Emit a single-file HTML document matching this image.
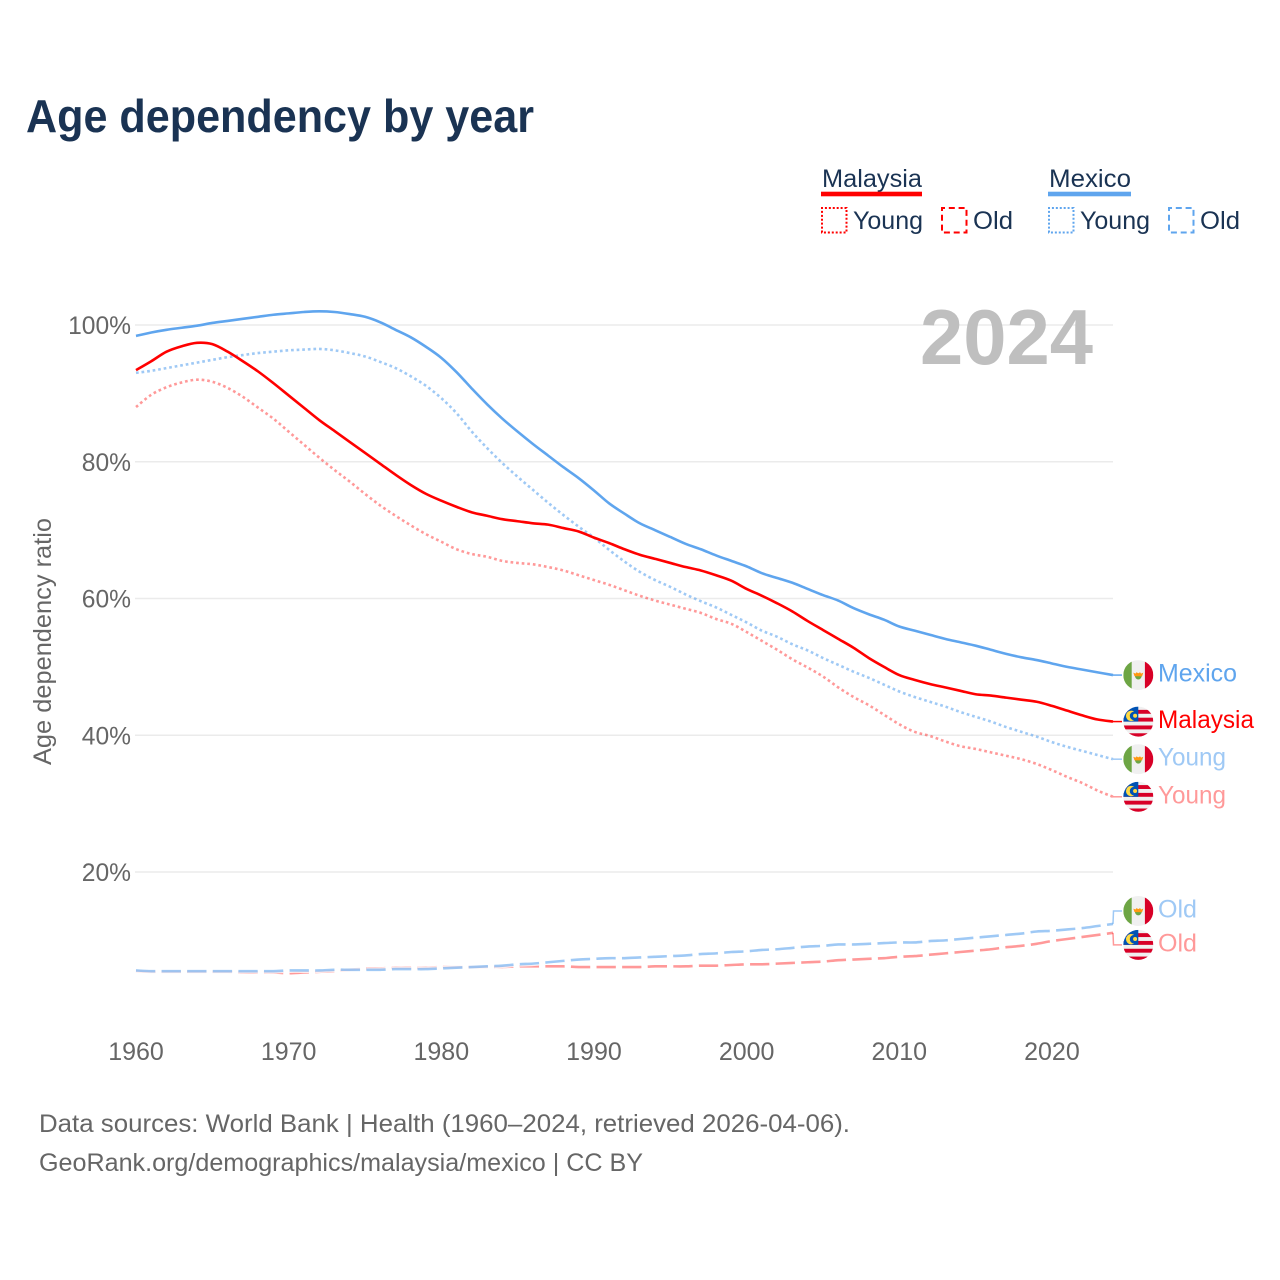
<!DOCTYPE html>
<html lang="en">
<head>
<meta charset="utf-8">
<title>Age dependency by year</title>
<style>
html,body{margin:0;padding:0;background:#fff}
body{width:1280px;height:1280px;overflow:hidden}
svg{display:block;font-family:"Liberation Sans",sans-serif}
</style>
</head>
<body>
<svg id="chart" xmlns="http://www.w3.org/2000/svg" width="1280" height="1280" viewBox="0 0 1280 1280">
  <rect x="0" y="0" width="1280" height="1280" fill="#ffffff"/>
  <text x="26" y="132" font-size="46" font-weight="700" fill="#1a3353" textLength="508" lengthAdjust="spacingAndGlyphs">Age dependency by year</text>

  <g font-size="25" fill="#1a3353">
    <g>
      <text x="822" y="187" textLength="100" lengthAdjust="spacingAndGlyphs">Malaysia</text>
      <rect x="821" y="191.7" width="101" height="4.6" fill="#ff0000"/>
    </g>
    <g>
      <rect x="822" y="208" width="24.5" height="24.5" fill="none" stroke="#ff0000" stroke-width="2" stroke-dasharray="2 1.92" stroke-dashoffset="1"/>
      <text x="853" y="229" textLength="70" lengthAdjust="spacingAndGlyphs">Young</text>
    </g>
    <g>
      <rect x="942" y="208" width="24.5" height="24.5" fill="none" stroke="#ff0000" stroke-width="2" stroke-dasharray="6 3.8" stroke-dashoffset="3"/>
      <text x="973" y="229" textLength="40" lengthAdjust="spacingAndGlyphs">Old</text>
    </g>
    <g>
      <text x="1049" y="187" textLength="82" lengthAdjust="spacingAndGlyphs">Mexico</text>
      <rect x="1048" y="191.7" width="83" height="4.6" fill="#5fa5ee"/>
    </g>
    <g>
      <rect x="1049" y="208" width="24.5" height="24.5" fill="none" stroke="#5fa5ee" stroke-width="2" stroke-dasharray="2 1.92" stroke-dashoffset="1"/>
      <text x="1080" y="229" textLength="70" lengthAdjust="spacingAndGlyphs">Young</text>
    </g>
    <g>
      <rect x="1169" y="208" width="24.5" height="24.5" fill="none" stroke="#5fa5ee" stroke-width="2" stroke-dasharray="6 3.8" stroke-dashoffset="3"/>
      <text x="1200" y="229" textLength="40" lengthAdjust="spacingAndGlyphs">Old</text>
    </g>
  </g>

  <g id="plot"></g>

  <text transform="translate(51 641.5) rotate(-90)" text-anchor="middle" font-size="25" fill="#666666" textLength="247" lengthAdjust="spacingAndGlyphs">Age dependency ratio</text>
  <text x="920" y="364" font-size="78" font-weight="700" fill="#bfbfbf" textLength="173" lengthAdjust="spacingAndGlyphs">2024</text>
  <text x="39" y="1132" font-size="25" fill="#666666" textLength="811" lengthAdjust="spacingAndGlyphs">Data sources: World Bank | Health (1960–2024, retrieved 2026-04-06).</text>
  <text x="39" y="1171" font-size="25" fill="#666666" textLength="604" lengthAdjust="spacingAndGlyphs">GeoRank.org/demographics/malaysia/mexico | CC BY</text>
</svg>

<script>
const firstYear = 1960;
const lastYear = 2024;
const xTicks = [1960, 1970, 1980, 1990, 2000, 2010, 2020];
const yTicks = [20, 40, 60, 80, 100];

const mexicoTotal = [98.4,98.9,99.3,99.6,99.9,100.3,100.6,100.9,101.2,101.5,101.7,101.9,102.0,101.9,101.6,101.2,100.4,99.3,98.2,96.8,95.2,93.1,90.7,88.4,86.3,84.4,82.6,80.9,79.2,77.6,75.8,73.9,72.4,71.0,70.0,69.0,68.0,67.2,66.3,65.5,64.7,63.7,63.0,62.3,61.4,60.5,59.7,58.6,57.7,56.9,55.9,55.3,54.7,54.1,53.6,53.1,52.5,51.9,51.4,51.0,50.5,50.0,49.6,49.2,48.8];
const malaysiaTotal = [93.4,94.7,96.1,96.9,97.4,97.2,96.1,94.7,93.2,91.5,89.7,87.9,86.1,84.5,82.9,81.3,79.7,78.1,76.6,75.3,74.3,73.4,72.6,72.1,71.6,71.3,71.0,70.8,70.3,69.8,68.9,68.1,67.2,66.4,65.8,65.2,64.6,64.1,63.4,62.6,61.4,60.4,59.3,58.1,56.7,55.4,54.1,52.8,51.3,50.0,48.8,48.1,47.5,47.0,46.5,46.0,45.8,45.5,45.2,44.9,44.3,43.6,42.9,42.3,42.0];
const mexicoYoung = [93.0,93.3,93.7,94.1,94.5,94.9,95.3,95.6,95.9,96.1,96.3,96.4,96.5,96.3,95.9,95.4,94.6,93.7,92.5,91.1,89.3,87.1,84.4,82.0,79.8,77.8,75.9,74.0,72.2,70.5,68.9,67.1,65.4,63.9,62.7,61.7,60.6,59.6,58.7,57.6,56.5,55.3,54.4,53.3,52.4,51.3,50.3,49.3,48.4,47.4,46.4,45.6,44.9,44.2,43.4,42.7,42.0,41.2,40.5,39.8,39.0,38.3,37.7,37.1,36.5];
const malaysiaYoung = [88.0,89.8,90.9,91.6,92.0,91.7,90.8,89.5,87.9,86.3,84.4,82.5,80.6,78.8,77.1,75.3,73.6,72.1,70.7,69.4,68.3,67.2,66.5,66.1,65.5,65.2,65.0,64.6,64.1,63.4,62.7,62.0,61.2,60.4,59.7,59.1,58.5,57.9,57.0,56.3,55.1,53.8,52.5,51.1,49.9,48.6,47.0,45.6,44.4,43.0,41.6,40.5,39.9,39.1,38.4,38.0,37.5,37.0,36.5,35.8,34.9,33.9,33.0,31.9,31.0];
const mexicoOld = [5.6,5.5,5.5,5.5,5.5,5.5,5.5,5.5,5.5,5.5,5.6,5.6,5.6,5.7,5.7,5.7,5.7,5.8,5.8,5.8,5.9,6.0,6.1,6.2,6.3,6.5,6.6,6.8,7.0,7.2,7.3,7.4,7.4,7.5,7.6,7.7,7.8,8.0,8.1,8.3,8.4,8.6,8.7,8.9,9.1,9.2,9.4,9.4,9.5,9.6,9.7,9.7,9.9,10.0,10.2,10.4,10.6,10.8,11.0,11.3,11.4,11.6,11.8,12.1,12.4];
const malaysiaOld = [5.5,5.4,5.4,5.4,5.4,5.4,5.4,5.3,5.3,5.3,5.2,5.3,5.4,5.5,5.7,5.9,5.9,6.0,6.0,6.0,6.1,6.1,6.1,6.1,6.1,6.2,6.2,6.2,6.2,6.1,6.1,6.1,6.1,6.1,6.2,6.2,6.2,6.3,6.3,6.4,6.5,6.5,6.6,6.7,6.8,6.9,7.1,7.2,7.3,7.4,7.6,7.7,7.9,8.1,8.3,8.5,8.7,9.0,9.2,9.5,9.9,10.2,10.5,10.8,11.1];

const NS = 'http://www.w3.org/2000/svg';
const plot = document.getElementById('plot');
const RED = '#ff0000';
const BLUE = '#5fa5ee';
const RED_FADE = 0.4;
const BLUE_FADE = 0.6;
const X0 = 136, X1 = 1113;
const Y100 = 325, PX_PER_PCT = 6.8375;

function xScale(year) { return X0 + (year - firstYear) * (X1 - X0) / (lastYear - firstYear); }
function yScale(pct) { return Y100 + (100 - pct) * PX_PER_PCT; }
function make(tag, attrs, parent) {
  const el = document.createElementNS(NS, tag);
  for (const k in attrs) el.setAttribute(k, attrs[k]);
  (parent || plot).appendChild(el);
  return el;
}
// smooth path through the yearly values (Catmull-Rom to cubic Bezier)
function pathOf(values) {
  const pts = values.map(function (v, i) { return [xScale(firstYear + i), yScale(v)]; });
  let d = 'M' + pts[0][0].toFixed(2) + ' ' + pts[0][1].toFixed(2);
  for (let i = 0; i < pts.length - 1; i++) {
    const p0 = pts[Math.max(i - 1, 0)], p1 = pts[i], p2 = pts[i + 1], p3 = pts[Math.min(i + 2, pts.length - 1)];
    const c1x = p1[0] + (p2[0] - p0[0]) / 6, c1y = p1[1] + (p2[1] - p0[1]) / 6;
    const c2x = p2[0] - (p3[0] - p1[0]) / 6, c2y = p2[1] - (p3[1] - p1[1]) / 6;
    d += 'C' + c1x.toFixed(2) + ' ' + c1y.toFixed(2) + ' ' + c2x.toFixed(2) + ' ' + c2y.toFixed(2) + ' ' + p2[0].toFixed(2) + ' ' + p2[1].toFixed(2);
  }
  return d;
}

// gridlines and y ticks
yTicks.forEach(function (t) {
  const line = make('line', { x1: X0 - 1, x2: X1, y1: yScale(t), y2: yScale(t), stroke: '#ebebeb', 'stroke-width': 1.4 });
  
  
  const label = make('text', { x: 131, y: yScale(t) + 9, 'text-anchor': 'end', 'font-size': 24.6, fill: '#666666' });
  label.textContent = t + '%';
  
  
});

// x ticks
xTicks.forEach(function (t) {
  const label = make('text', { x: xScale(t), y: 1060, 'text-anchor': 'middle', 'font-size': 25, fill: '#666666' });
  label.textContent = String(t);
  
  
});

function drawSeries(name, values, color, kind, fade) {
  const d = pathOf(values);
  if (kind === 'old') {
    const halo = make('path', { d: d, fill: 'none', stroke: '#ffffff', 'stroke-width': 5, 'stroke-opacity': 0.8, 'stroke-dasharray': '19.3 6.3' });
    
    
  }
  const line = make('path', { d: d, fill: 'none', stroke: color, 'stroke-width': 2.6, 'stroke-linejoin': 'round' });
  if (kind === 'young') {
    line.setAttribute('stroke-dasharray', '2.7 2.9');
    line.setAttribute('stroke-opacity', String(fade));
  } else if (kind === 'old') {
    line.setAttribute('stroke-dasharray', '19.3 6.3');
    line.setAttribute('stroke-opacity', String(fade));
  }
  
  
}

let flagCount = 0;
function drawMexicoFlag(g, cx, cy) {
  make('rect', { x: cx - 15, y: cy - 15, width: 30, height: 30, fill: '#f0f0f0' }, g);
  make('rect', { x: cx - 15, y: cy - 15, width: 8.4, height: 30, fill: '#6da544' }, g);
  make('rect', { x: cx + 6.6, y: cy - 15, width: 8.4, height: 30, fill: '#d80027' }, g);
  make('path', { d: 'M' + (cx - 3.4) + ' ' + (cy + 0.6) + 'a3.4 3.8 0 0 0 6.8 0z', fill: '#6da544' }, g);
  make('path', { d: 'M' + (cx - 5) + ' ' + (cy - 2.4) + 'l2.2 .9 1-1.3 1.8 1 1.8-1 1 1.3 2.2-.9-1.2 3.6h-7.6z', fill: '#ff9811' }, g);
}
function drawMalaysiaFlag(g, cx, cy) {
  make('rect', { x: cx - 15, y: cy - 15, width: 30, height: 30, fill: '#f0f0f0' }, g);
  [-11.7, -3.9, 3.9, 11.7].forEach(function (top) {
    make('rect', { x: cx - 15, y: cy + top, width: 30, height: 3.9, fill: '#d80027' }, g);
  });
  make('rect', { x: cx - 15, y: cy - 15, width: 15, height: 15, fill: '#0052b4' }, g);
  make('path', { d: 'M' + (cx - 4.2) + ' ' + (cy - 10) + 'a5.2 5.2 0 1 0 0 8.6a4 4 0 1 1 0-8.6z', fill: '#ffda44' }, g);
  make('circle', { cx: cx - 3.2, cy: cy - 5.8, r: 2, fill: '#ffda44' }, g);
}

function drawEndLabel(country, text, cy, endY, color, textWidth, opacity) {
  const g = make('g', {});
  
  

  const connector = make('polyline', {
    points: X1 + ',' + endY + ' ' + (X1 + 0.5) + ',' + cy + ' 1122,' + cy,
    fill: 'none', stroke: color, 'stroke-width': 1.5, 'stroke-opacity': opacity
  }, g);
  
  

  flagCount += 1;
  const clipId = 'flag-clip-' + flagCount;
  const clip = make('clipPath', { id: clipId }, g);
  make('circle', { cx: 1138.3, cy: cy, r: 15 }, clip);
  const flag = make('g', { 'clip-path': 'url(#' + clipId + ')' }, g);
  
  
  if (country === 'Mexico') drawMexicoFlag(flag, 1138.3, cy); else drawMalaysiaFlag(flag, 1138.3, cy);

  const label = make('text', { x: 1158, y: cy + 6.5, 'font-size': 25, fill: color, 'fill-opacity': opacity, textLength: textWidth, lengthAdjust: 'spacingAndGlyphs' }, g);
  label.textContent = text;
  
  
}

drawSeries('malaysia-old-line', malaysiaOld, RED, 'old', RED_FADE);
drawSeries('mexico-old-line', mexicoOld, BLUE, 'old', BLUE_FADE);
drawSeries('malaysia-young-line', malaysiaYoung, RED, 'young', RED_FADE);
drawSeries('mexico-young-line', mexicoYoung, BLUE, 'young', BLUE_FADE);
drawSeries('malaysia-total-line', malaysiaTotal, RED, 'total', 1);
drawSeries('mexico-total-line', mexicoTotal, BLUE, 'total', 1);

function lastOf(arr) { return yScale(arr[arr.length - 1]); }
const OLD_LABEL_LIFT = 13;
const OLD_LABEL_DROP = 12;
drawEndLabel('Mexico', 'Mexico', lastOf(mexicoTotal), lastOf(mexicoTotal), BLUE, 79, 1);
drawEndLabel('Malaysia', 'Malaysia', lastOf(malaysiaTotal), lastOf(malaysiaTotal), RED, 96, 1);
drawEndLabel('Mexico', 'Young', lastOf(mexicoYoung), lastOf(mexicoYoung), BLUE, 68, BLUE_FADE);
drawEndLabel('Malaysia', 'Young', lastOf(malaysiaYoung), lastOf(malaysiaYoung), RED, 68, RED_FADE);
drawEndLabel('Mexico', 'Old', lastOf(mexicoOld) - OLD_LABEL_LIFT, lastOf(mexicoOld), BLUE, 39, BLUE_FADE);
drawEndLabel('Malaysia', 'Old', lastOf(malaysiaOld) + OLD_LABEL_DROP, lastOf(malaysiaOld), RED, 39, RED_FADE);
</script>
</body>
</html>
